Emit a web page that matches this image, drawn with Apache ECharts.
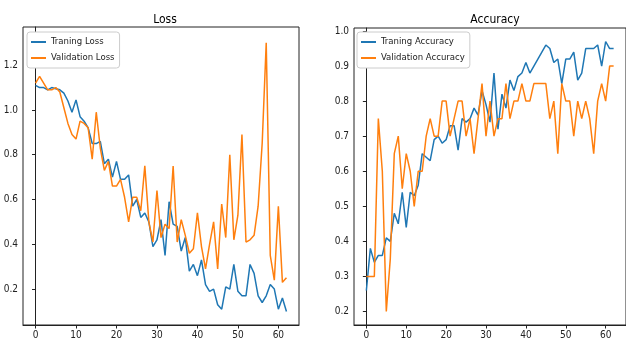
<!DOCTYPE html>
<html><head><meta charset="utf-8">
<script src="https://cdn.jsdelivr.net/npm/echarts@6/dist/echarts.min.js"></script>
<style>html,body{margin:0;padding:0;background:#fff}#c{width:626px;height:343px}</style>
</head><body><div id="c"></div>
<script>
const trainLoss = [1.11,1.10,1.10,1.09,1.10,1.095,1.09,1.075,1.04,0.99,1.045,0.97,0.95,0.92,0.85,0.85,0.86,0.76,0.78,0.70,0.77,0.69,0.69,0.71,0.57,0.60,0.52,0.54,0.50,0.39,0.42,0.51,0.35,0.59,0.49,0.48,0.37,0.43,0.28,0.31,0.26,0.33,0.22,0.19,0.20,0.13,0.11,0.21,0.20,0.31,0.19,0.17,0.17,0.31,0.27,0.17,0.14,0.17,0.22,0.20,0.11,0.16,0.10];
const valLoss = [1.12,1.15,1.12,1.09,1.09,1.10,1.08,1.01,0.94,0.89,0.87,0.95,0.94,0.92,0.78,0.99,0.83,0.73,0.77,0.66,0.66,0.69,0.61,0.50,0.61,0.61,0.55,0.75,0.50,0.41,0.64,0.43,0.49,0.47,0.75,0.41,0.51,0.44,0.36,0.38,0.54,0.39,0.29,0.40,0.50,0.29,0.58,0.43,0.80,0.42,0.53,0.89,0.41,0.42,0.44,0.57,0.85,1.30,0.35,0.24,0.57,0.23,0.25];
const trainAcc = [0.26,0.38,0.34,0.36,0.36,0.41,0.40,0.48,0.45,0.54,0.44,0.54,0.53,0.56,0.65,0.64,0.63,0.69,0.70,0.68,0.69,0.73,0.73,0.66,0.75,0.74,0.75,0.78,0.76,0.83,0.79,0.74,0.88,0.72,0.82,0.78,0.86,0.83,0.87,0.88,0.91,0.88,0.90,0.92,0.94,0.96,0.95,0.91,0.92,0.85,0.92,0.92,0.94,0.86,0.88,0.95,0.95,0.95,0.96,0.90,0.97,0.95,0.95];
const valAcc = [0.30,0.30,0.30,0.75,0.60,0.20,0.35,0.65,0.70,0.55,0.65,0.60,0.50,0.60,0.60,0.70,0.75,0.70,0.70,0.80,0.80,0.70,0.75,0.80,0.80,0.70,0.75,0.65,0.75,0.85,0.70,0.80,0.70,0.75,0.75,0.85,0.75,0.80,0.80,0.85,0.80,0.80,0.85,0.85,0.85,0.85,0.75,0.80,0.65,0.85,0.80,0.80,0.70,0.80,0.75,0.80,0.75,0.65,0.80,0.85,0.80,0.90,0.90];
const xTicks = [0,10,20,30,40,50,60];
const lossTicks = [0.2,0.4,0.6,0.8,1.0,1.2];
const accTicks = [0.2,0.3,0.4,0.5,0.6,0.7,0.8,0.9,1.0];

const pairs = arr => arr.map((v,i)=>[i,v]);
const FONT = "'DejaVu Sans Condensed','Liberation Sans Narrow','DejaVu Sans',sans-serif";
const axisCol = '#222';
function xAx(gi){return {type:'value',gridIndex:gi,min:-3.1,max:65.1,
  axisLine:{lineStyle:{color:axisCol}},
  axisTick:{customValues:xTicks,length:3.5,lineStyle:{color:axisCol}},
  axisLabel:{customValues:xTicks,color:'#222',fontSize:10,fontFamily:FONT,margin:5},
  splitLine:{show:false}};}
function yAx(gi,min,max,ticks){return {type:'value',gridIndex:gi,min:min,max:max,
  axisLine:{show:true,lineStyle:{color:axisCol}},
  axisTick:{show:true,customValues:ticks,length:3.5,lineStyle:{color:axisCol}},
  axisLabel:{customValues:ticks,color:'#222',fontSize:10,fontFamily:FONT,margin:5,formatter:v=>v.toFixed(1)},
  splitLine:{show:false}};}
const ln = (name,data,color,xi)=>({name:name,type:'line',xAxisIndex:xi,yAxisIndex:xi,data:pairs(data),
  showSymbol:false,symbol:'none',lineStyle:{color:color,width:1.5},itemStyle:{color:color},animation:false});
const legendBase = {orient:'vertical',icon:'rect',itemWidth:15,itemHeight:2,itemGap:6,
  backgroundColor:'#fff',borderColor:'#ccc',borderWidth:1,borderRadius:3,padding:[5,5,5,4],
  textStyle:{fontSize:9.5,fontFamily:FONT,color:'#222'}};
const chart = echarts.init(document.getElementById('c'),null,{renderer:'canvas'});
chart.setOption({
  animation:false,
  title:[{text:'Loss',left:160,top:9,textAlign:'center',textStyle:{fontSize:12,fontWeight:'normal',fontFamily:FONT,color:'#000'}},
         {text:'Accuracy',left:490,top:9,textAlign:'center',textStyle:{fontSize:12,fontWeight:'normal',fontFamily:FONT,color:'#000'}}],
  grid:[{left:23,top:27,width:276,height:298,show:true,borderColor:axisCol,borderWidth:1,backgroundColor:'transparent'},
        {left:354,top:28,width:273,height:297,show:true,borderColor:axisCol,borderWidth:1,backgroundColor:'transparent'}],
  xAxis:[xAx(0),xAx(1)],
  yAxis:[yAx(0,0.0395,1.3705,lossTicks),yAx(1,0.1615,1.0085,accTicks)],
  legend:[Object.assign({},legendBase,{left:27,top:32,data:['Traning Loss','Validation Loss']}),
          Object.assign({},legendBase,{left:357,top:32,data:['Traning Accuracy','Validation Accuracy']})],
  series:[ln('Traning Loss',trainLoss,'#1f77b4',0),ln('Validation Loss',valLoss,'#ff7f0e',0),
          ln('Traning Accuracy',trainAcc,'#1f77b4',1),ln('Validation Accuracy',valAcc,'#ff7f0e',1)]
});
</script></body></html>
